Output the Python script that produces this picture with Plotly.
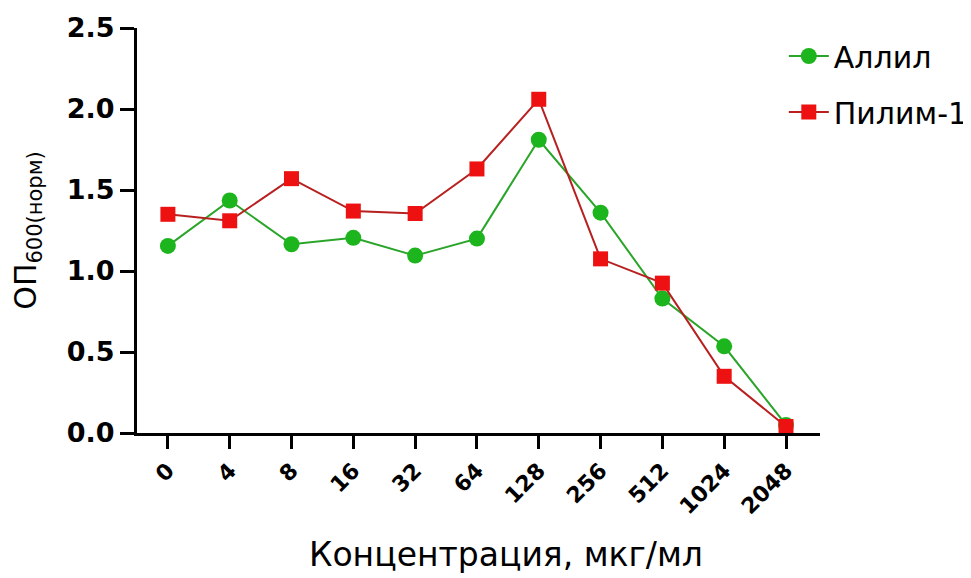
import plotly.graph_objects as go

categories = ["0", "4", "8", "16", "32", "64", "128", "256", "512", "1024", "2048"]
allil = [1.155, 1.435, 1.165, 1.205, 1.095, 1.20, 1.81, 1.36, 0.83, 0.535, 0.05]
pilim = [1.35, 1.31, 1.57, 1.37, 1.355, 1.63, 2.06, 1.075, 0.925, 0.35, 0.04]
y_ticks = [0.0, 0.5, 1.0, 1.5, 2.0, 2.5]

FONT = "DejaVu Sans, Liberation Sans, Arial, sans-serif"

fig = go.Figure()
fig.add_trace(go.Scatter(
    x=categories, y=allil, name="Аллил", mode="lines+markers", legendgroup="a",
    line=dict(color="#2aa52a", width=2),
    marker=dict(symbol="circle", size=16, color="#1db51d",
                line=dict(color="#1db51d", width=0)),
))
fig.add_trace(go.Scatter(
    x=categories, y=pilim, name="Пилим-1", mode="lines+markers", legendgroup="b",
    line=dict(color="#b82020", width=2),
    marker=dict(symbol="square", size=15, color="#ee1111",
                line=dict(color="#cc1111", width=0)),
))

# page body has an 8px margin, so margins are offset to put the plot area at x 137-820, y 28-433
fig.update_layout(
    width=971, height=578,
    margin=dict(l=129, r=159, t=20, b=153, autoexpand=False),
    paper_bgcolor="white", plot_bgcolor="white",
    font=dict(family=FONT, color="black"),
    showlegend=True,
    legend=dict(x=0.947, y=0.995, xanchor="left", yanchor="top",
                font=dict(size=30, family=FONT, color="black"),
                bgcolor="rgba(0,0,0,0)", tracegroupgap=14, itemwidth=40),
    xaxis=dict(
        type="category", range=[-0.5, 10.55], automargin=False,
        showline=True, linecolor="black", linewidth=3,
        ticks="outside", ticklen=13, tickwidth=3, tickcolor="black",
        tickangle=-45, showgrid=False, zeroline=False,
        tickfont=dict(size=22, family=FONT, weight="bold", color="black"),
    ),
    yaxis=dict(
        range=[0, 2.5], tickvals=y_ticks, ticktext=[f"{v:.1f}" for v in y_ticks],
        automargin=False,
        showline=True, linecolor="black", linewidth=3,
        ticks="outside", ticklen=14, tickwidth=3, tickcolor="black",
        showgrid=False, zeroline=False,
        tickfont=dict(size=27, family=FONT, weight="bold", color="black"),
        title=dict(text="ОП<sub>600(норм)</sub>", font=dict(size=30, family=FONT), standoff=24),
    ),
    annotations=[dict(
        text="Концентрация, мкг/мл", xref="paper", yref="paper",
        x=0.54, y=-0.301, xanchor="center", yanchor="middle", showarrow=False,
        font=dict(size=33, family=FONT, color="black"),
    )],
)

fig.write_html("out.html")
